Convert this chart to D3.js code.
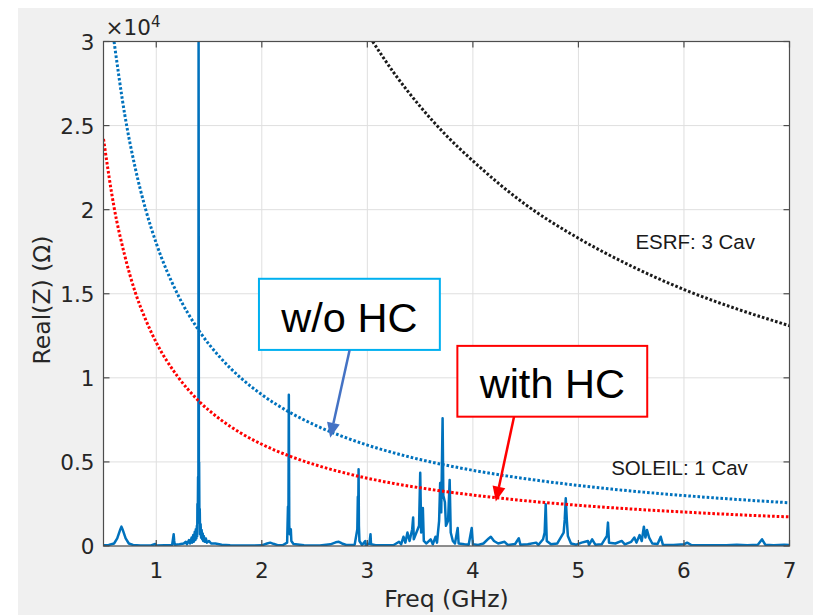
<!DOCTYPE html>
<html>
<head>
<meta charset="utf-8">
<script src="https://cdn.jsdelivr.net/npm/d3@7"></script>
<style>
  body { margin: 0; background: #fff; }
  svg { display: block; }
</style>
</head>
<body>
<svg id="chart"></svg>
<script>
// x ticks (GHz) and y ticks (x1e4 Ohm)
const xTicks = [1, 2, 3, 4, 5, 6, 7];
const yTicks = [0, 0.5, 1, 1.5, 2, 2.5, 3];
const yTickLabels = ['0', '0.5', '1', '1.5', '2', '2.5', '3'];

// threshold curves
const curveFreq   = [0.5, 0.6, 0.7, 0.8, 0.9, 1.0, 1.2, 1.4, 1.6, 1.8, 2.0, 2.25, 2.5, 2.75, 3.0, 3.25, 3.5, 3.75, 4.0, 4.5, 5.0, 5.5, 6.0, 6.5, 7.0];
const noHcCurve   = [null, 30000, 25700, 22500, 20000, 18000, 15000, 12850, 11250, 10000, 9000, 8000, 7200, 6550, 6000, 5540, 5140, 4800, 4500, 4000, 3600, 3270, 3000, 2770, 2570];
const withHcCurve = [24200, 20150, 17300, 15100, 13450, 12100, 10100, 8640, 7560, 6720, 6050, 5380, 4840, 4400, 4030, 3720, 3460, 3230, 3030, 2690, 2420, 2200, 2020, 1860, 1730];
const esrfFreq    = [3.05, 3.25, 3.5, 3.75, 4.0, 4.5, 5.0, 5.5, 6.0, 6.5, 7.0];
const esrfCurve   = [30000, 28150, 26140, 24400, 22900, 20300, 18300, 16650, 15250, 14100, 13100];

// impedance spectrum [freq GHz, Re(Z) Ohm]
const spectrum = [
  [0.5, 50], [0.55, 60], [0.6, 150], [0.63, 450], [0.66, 1000], [0.67, 1150], [0.68, 1000], [0.71, 450], [0.74, 150], [0.78, 60],
  [0.85, 30], [0.95, 30], [0.99, 120], [1.0, 30], [1.08, 40], [1.15, 50], [1.165, 700], [1.17, 300], [1.175, 80], [1.22, 100],
  [1.26, 150], [1.28, 250], [1.29, 100], [1.31, 350], [1.32, 150], [1.335, 500], [1.34, 200], [1.35, 650], [1.355, 250], [1.365, 850],
  [1.37, 350], [1.375, 1000], [1.38, 450], [1.385, 1200], [1.388, 600], [1.39, 2500], [1.393, 1400], [1.396, 4100], [1.399, 2000],
  [1.401, 31000], [1.404, 2500], [1.406, 5000], [1.409, 1500], [1.412, 2200], [1.415, 700], [1.42, 1300], [1.425, 500], [1.43, 950], [1.435, 400],
  [1.44, 750], [1.445, 300], [1.45, 600], [1.46, 250], [1.47, 450], [1.48, 200], [1.5, 300], [1.52, 150], [1.56, 150], [1.62, 80],
  [1.7, 40], [1.85, 30], [2.0, 40], [2.05, 150], [2.08, 200], [2.11, 130], [2.15, 50],
  [2.2, 60], [2.24, 200], [2.248, 2340], [2.252, 900], [2.256, 9000], [2.26, 1250], [2.265, 700], [2.275, 1000], [2.28, 300], [2.3, 120],
  [2.4, 40], [2.55, 30], [2.65, 100], [2.7, 220], [2.73, 250], [2.76, 150], [2.8, 60], [2.88, 80], [2.905, 1000], [2.91, 2930],
  [2.913, 1500], [2.917, 4560], [2.92, 1200], [2.925, 300], [2.95, 60], [2.98, 300], [2.985, 40], [3.0, 100], [3.02, 150], [3.03, 700],
  [3.035, 100], [3.08, 50], [3.15, 40], [3.25, 60], [3.3, 250], [3.32, 100], [3.342, 550], [3.36, 200], [3.38, 800], [3.4, 300],
  [3.425, 1000], [3.434, 1700], [3.44, 400], [3.49, 1200], [3.501, 4360], [3.51, 800], [3.526, 2260], [3.535, 300], [3.56, 150], [3.6, 400],
  [3.62, 100], [3.646, 550], [3.66, 200], [3.68, 1500], [3.69, 3750], [3.7, 2000], [3.713, 7600], [3.72, 3000], [3.735, 2600], [3.745, 1200],
  [3.765, 1500], [3.78, 3930], [3.79, 800], [3.81, 300], [3.83, 150], [3.856, 1070], [3.865, 150], [3.92, 100], [3.96, 80], [3.989, 1070],
  [4.0, 100], [4.05, 60], [4.1, 150], [4.15, 450], [4.17, 550], [4.2, 300], [4.24, 150], [4.3, 250], [4.33, 60], [4.4, 120],
  [4.435, 460], [4.45, 80], [4.52, 100], [4.6, 200], [4.62, 60], [4.665, 400], [4.68, 800], [4.69, 2480], [4.7, 300], [4.74, 100],
  [4.8, 150], [4.86, 800], [4.87, 1550], [4.88, 2840], [4.89, 1550], [4.9, 600], [4.93, 150], [4.98, 80], [5.03, 200], [5.09, 300],
  [5.1, 60], [5.13, 400], [5.16, 80], [5.22, 100], [5.27, 600], [5.28, 1390], [5.29, 200], [5.35, 150], [5.41, 300], [5.44, 100],
  [5.5, 250], [5.53, 500], [5.55, 200], [5.58, 650], [5.6, 300], [5.62, 1150], [5.635, 500], [5.65, 950], [5.67, 500], [5.7, 150],
  [5.75, 120], [5.78, 550], [5.8, 80], [5.9, 60], [6.0, 100], [6.03, 200], [6.07, 60], [6.2, 40], [6.4, 50], [6.5, 80],
  [6.6, 40], [6.7, 80], [6.74, 400], [6.77, 80], [6.85, 50], [6.95, 80], [7.0, 60]
];

const notes = [
  {text: 'w/o HC', color: '#00b0f0', arrow: '#4472c4', box: [1.973, 3.687, 15890, 11660], base: 13620, arrowFrom: [2.832, 11660], arrowTo: [2.648, 6430]},
  {text: 'with HC', color: '#ff0000', arrow: '#ff0000', box: [3.853, 5.652, 11900, 7690], base: 9720, arrowFrom: [4.39, 7690], arrowTo: [4.217, 2640]}
];
const labels = [
  {text: 'ESRF: 3 Cav', f: 5.54, z: 17650},
  {text: 'SOLEIL: 1 Cav', f: 5.31, z: 4240}
];

const width = 813, height = 615;
const padding = {top: 41.5, right: 23.5, bottom: 69, left: 103.5};

const svg = d3.select('#chart')
    .attr('width', width)
    .attr('height', height);

svg.append('rect')
    .attr('x', 18).attr('y', 8)
    .attr('width', width - 18).attr('height', height - 8)
    .attr('fill', '#f0f0f0');

const xScale = d3.scaleLinear()
    .domain([0.5, 7])
    .range([padding.left, width - padding.right]);
const yScale = d3.scaleLinear()
    .domain([0, 30000])
    .range([height - padding.bottom, padding.top]);

const x0 = xScale.range()[0], x1 = xScale.range()[1];
const y0 = yScale.range()[0], y1 = yScale.range()[1];

svg.append('rect')
    .attr('x', x0).attr('y', y1)
    .attr('width', x1 - x0).attr('height', y0 - y1)
    .attr('fill', '#fff');

svg.append('clipPath').attr('id', 'clip')
    .append('rect')
    .attr('x', x0).attr('y', y1)
    .attr('width', x1 - x0).attr('height', y0 - y1);

//grid
const grid = svg.append('g').attr('stroke', '#dfdfdf').attr('stroke-width', 1);
grid.selectAll('.gx').data(xTicks).enter().append('line')
    .attr('x1', d => xScale(d)).attr('x2', d => xScale(d))
    .attr('y1', y1).attr('y2', y0);
grid.selectAll('.gy').data(yTicks).enter().append('line')
    .attr('x1', x0).attr('x2', x1)
    .attr('y1', d => yScale(d * 1e4)).attr('y2', d => yScale(d * 1e4));

const plot = svg.append('g').attr('clip-path', 'url(#clip)');

//spectrum
plot.append('path')
    .datum(spectrum)
    .attr('fill', 'none')
    .attr('stroke', '#0072bd')
    .attr('stroke-width', 2.5)
    .attr('stroke-linejoin', 'round')
    .attr('d', d3.line().x(d => xScale(d[0])).y(d => yScale(d[1])));

//dotted threshold curves
const dotted = d3.line()
    .defined(d => d[1] != null)
    .x(d => xScale(d[0])).y(d => yScale(d[1]))
    .curve(d3.curveMonotoneX);

[[curveFreq, noHcCurve, '#0072bd'], [curveFreq, withHcCurve, '#ff0000'], [esrfFreq, esrfCurve, '#1a1a1a']].forEach(c => {
  plot.append('path')
      .datum(c[0].map((f, i) => [f, c[1][i]]))
      .attr('fill', 'none')
      .attr('stroke', c[2])
      .attr('stroke-width', 3)
      .attr('stroke-dasharray', '2.6,2')
      .attr('d', dotted);
});

//axes box and ticks
const axis = svg.append('g').attr('stroke', '#4d4d4d').attr('stroke-width', 1.2).attr('fill', 'none');
axis.append('rect').attr('x', x0).attr('y', y1).attr('width', x1 - x0).attr('height', y0 - y1);
xTicks.forEach(t => {
  axis.append('line').attr('x1', xScale(t)).attr('x2', xScale(t)).attr('y1', y0).attr('y2', y0 - 6);
  axis.append('line').attr('x1', xScale(t)).attr('x2', xScale(t)).attr('y1', y1).attr('y2', y1 + 6);
});
yTicks.forEach(t => {
  axis.append('line').attr('x1', x0).attr('x2', x0 + 6).attr('y1', yScale(t * 1e4)).attr('y2', yScale(t * 1e4));
  axis.append('line').attr('x1', x1).attr('x2', x1 - 6).attr('y1', yScale(t * 1e4)).attr('y2', yScale(t * 1e4));
});

const tickFont = 'DejaVu Sans, sans-serif';
svg.append('g').selectAll('text').data(xTicks).enter().append('text')
    .attr('x', d => xScale(d)).attr('y', y0 + 32)
    .attr('text-anchor', 'middle')
    .attr('font-family', tickFont).attr('font-size', 21.5)
    .attr('fill', '#262626')
    .text(d => d);
svg.append('g').selectAll('text').data(yTicks).enter().append('text')
    .attr('x', x0 - 9).attr('y', d => yScale(d * 1e4) + 8)
    .attr('text-anchor', 'end')
    .attr('font-family', tickFont).attr('font-size', 21.5)
    .attr('fill', '#262626')
    .text((d, i) => yTickLabels[i]);

//exponent
const expo = svg.append('text')
    .attr('x', x0 + 2).attr('y', 35)
    .attr('font-family', tickFont).attr('font-size', 21.5)
    .attr('fill', '#262626');
expo.append('tspan').text('\u00d710');
expo.append('tspan').attr('dy', -8).attr('font-size', 15).text('4');

//axis labels
svg.append('text')
    .attr('x', (x0 + x1) / 2).attr('y', 607)
    .attr('text-anchor', 'middle')
    .attr('font-family', tickFont).attr('font-size', 23.5)
    .attr('fill', '#262626')
    .text('Freq (GHz)');
svg.append('text')
    .attr('transform', `translate(50, 300) rotate(-90)`)
    .attr('text-anchor', 'middle')
    .attr('font-family', tickFont).attr('font-size', 23.5)
    .attr('fill', '#262626')
    .text('Real(Z) (\u03a9)');

//curve labels
svg.append('g').selectAll('text').data(labels).enter().append('text')
    .attr('x', d => xScale(d.f)).attr('y', d => yScale(d.z))
    .attr('font-family', 'Liberation Sans, Arial, sans-serif').attr('font-size', 20.5)
    .attr('fill', '#1a1a1a')
    .text(d => d.text);

//annotation boxes with arrows
notes.forEach(n => {
  const g = svg.append('g');
  const bx0 = xScale(n.box[0]), bx1 = xScale(n.box[1]);
  const by0 = yScale(n.box[2]), by1 = yScale(n.box[3]);
  g.append('rect')
      .attr('x', bx0).attr('y', by0)
      .attr('width', bx1 - bx0).attr('height', by1 - by0)
      .attr('fill', '#fff')
      .attr('stroke', n.color).attr('stroke-width', 2);
  g.append('text')
      .attr('x', (bx0 + bx1) / 2).attr('y', yScale(n.base) + 15)
      .attr('text-anchor', 'middle')
      .attr('font-family', 'Liberation Sans, Arial, sans-serif').attr('font-size', 41.5)
      .attr('fill', '#000')
      .text(n.text);
  const ax0 = xScale(n.arrowFrom[0]), ay0 = yScale(n.arrowFrom[1]);
  const ax1 = xScale(n.arrowTo[0]), ay1 = yScale(n.arrowTo[1]);
  const ang = Math.atan2(ay1 - ay0, ax1 - ax0);
  const headLen = 15, headW = 6.5;
  const bx = ax1 - headLen * Math.cos(ang), by = ay1 - headLen * Math.sin(ang);
  g.append('line')
      .attr('x1', ax0).attr('y1', ay0).attr('x2', bx).attr('y2', by)
      .attr('stroke', n.arrow).attr('stroke-width', 2.5);
  g.append('polygon')
      .attr('points', [
        [ax1, ay1],
        [bx + headW * Math.sin(ang), by - headW * Math.cos(ang)],
        [bx - headW * Math.sin(ang), by + headW * Math.cos(ang)]
      ].map(p => p.join(',')).join(' '))
      .attr('fill', n.arrow);
});
</script>
</body>
</html>
